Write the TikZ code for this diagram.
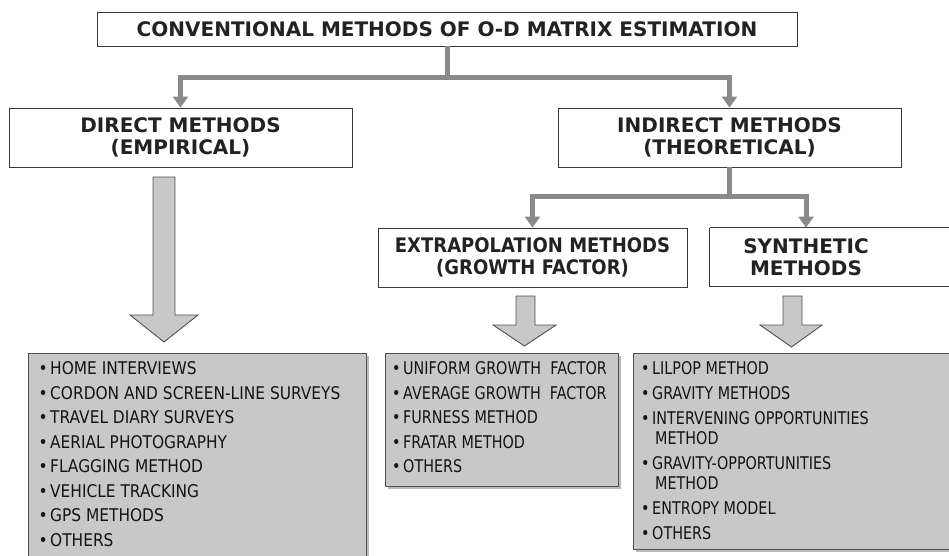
\documentclass[tikz,border=0pt]{standalone}
\usepackage{fontspec}
\setmainfont{DejaVu Sans}
\newfontfamily\listfont{DejaVu Sans}[FakeStretch=0.88]
\newfontfamily\listfontnarrow{DejaVu Sans}[FakeStretch=0.82]
\newfontfamily\headnarrow{DejaVu Sans}[FakeStretch=0.9]
\usetikzlibrary{arrows.meta,shadows,calc}
\definecolor{conngray}{HTML}{8A8A8A}
\definecolor{boxline}{HTML}{3A3A3A}
\definecolor{listfill}{HTML}{C8C8C8}
\definecolor{arrowline}{HTML}{505050}
\definecolor{headtext}{HTML}{222222}
\tikzset{
  hbox/.style={draw=boxline, line width=0.9pt, fill=white, align=center, inner sep=0pt,
    text=headtext, font=\bfseries\fontsize{20}{22.5}\selectfont},
  conn/.style={draw=conngray, line width=5pt, -{Triangle[width=15pt,length=11pt]}},
  joinline/.style={draw=conngray, line width=5pt},
  listbox/.style={draw=arrowline, line width=0.9pt, fill=listfill,
    drop shadow={shadow xshift=3pt, shadow yshift=-3pt, opacity=0.45, fill=black!60}},
  fatarrow/.style={draw=arrowline, line width=0.9pt, fill=listfill, line join=miter},
  item/.style={anchor=base west, inner sep=0pt, text=black!92,
    font=\listfont\fontsize{17.5}{20}\selectfont},
  itemn/.style={item, font=\listfontnarrow\fontsize{17.5}{20}\selectfont},
}
\newcommand{\bul}{\llap{•\hspace{2.5pt}}}
\begin{document}
\begin{tikzpicture}[x=1pt,y=-1pt]
\useasboundingbox (0,0) rectangle (949,555);
\clip (0,0) rectangle (949,555);
% headings
\node[hbox, minimum width=700, minimum height=34] (title) at (447,29) {CONVENTIONAL METHODS OF O-D MATRIX ESTIMATION};
\node[hbox, minimum width=343, minimum height=59] (direct) at (180.5,137.5) {DIRECT METHODS\\(EMPIRICAL)};
\node[hbox, minimum width=343, minimum height=59] (indirect) at (729.5,137.5) {INDIRECT METHODS\\(THEORETICAL)};
\node[hbox, minimum width=309, minimum height=59, font=\headnarrow\bfseries\fontsize{20}{22.5}\selectfont] (extrap) at (532.5,257.5) {EXTRAPOLATION METHODS\\(GROWTH FACTOR)};
\node[hbox, draw=none, fill=none, minimum width=192, minimum height=58] (synth) at (806,257) {SYNTHETIC\\METHODS};
\draw[draw=boxline, line width=0.9pt] (synth.north west) -- ++(260,0) (synth.north west) -- (synth.south west) -- ++(260,0);
% connectors
\draw[joinline] (title.south) -- ++(0,31) coordinate (j1);
\draw[conn] (j1) -| (direct.north);
\draw[conn] (j1) -| (indirect.north);
\draw[joinline] (indirect.south) -- ++(0,29.5) coordinate (j2);
\draw[conn] (j2) -| (extrap.north);
\draw[conn] (j2) -| (synth.north);
% fat arrows
\draw[fatarrow] (153,177) -- (175,177) -- (175,315) -- (198,315) -- (164,342) -- (130,315) -- (153,315) -- cycle;
\draw[fatarrow] (516,296) -- (535,296) -- (535,325) -- (556,325) -- (524.5,346) -- (493,325) -- (516,325) -- cycle;
\draw[fatarrow] (783,296) -- (802,296) -- (802,325) -- (822,325) -- (791.5,347) -- (760,325) -- (783,325) -- cycle;
% list boxes
\path[listbox] (28,353) rectangle (366,575);
\path[listbox] (385,353) rectangle (618,486);
\path[listbox] (633,353) rectangle (975,549);
% left list
\foreach \y/\t [count=\i] in {368/HOME INTERVIEWS, 392.5/CORDON AND SCREEN-LINE SURVEYS, 417/TRAVEL DIARY SURVEYS,
  441.5/AERIAL PHOTOGRAPHY, 466/FLAGGING METHOD, 490.5/VEHICLE TRACKING, 515/GPS METHODS, 539.5/OTHERS}
  \node[item] (l\i) at (50,\y+6.5) {\bul\t};
% middle list
\foreach \y/\t [count=\i] in {368/UNIFORM GROWTH\ \ FACTOR, 392.5/AVERAGE GROWTH\ \ FACTOR, 417/FURNESS METHOD,
  441.5/FRATAR METHOD, 466/OTHERS}
  \node[itemn] (m\i) at (403,\y+6.5) {\bul\t};
% right list
\foreach \y/\t [count=\i] in {368/LILPOP METHOD, 393/GRAVITY METHODS, 418/INTERVENING OPPORTUNITIES,
  463/GRAVITY-OPPORTUNITIES, 508/ENTROPY MODEL, 533/OTHERS}
  \node[itemn] (r\i) at (652,\y+6.5) {\bul\t};
\node[itemn] (r3b) at (655,444.5) {METHOD};
\node[itemn] (r4b) at (655,489.5) {METHOD};
\end{tikzpicture}
\end{document}
